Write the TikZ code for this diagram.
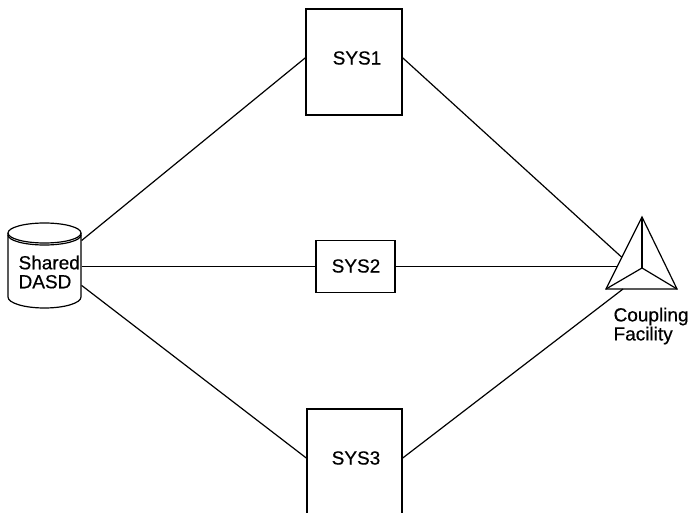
\documentclass[tikz,border=0pt]{standalone}
\usepackage{fontspec}
\setmainfont[FakeBold=0.5]{Liberation Sans}
\usetikzlibrary{calc}

\begin{document}
\begin{tikzpicture}[x=1pt, y=-1pt, line width=1.2pt,
    sysbox/.style={rectangle, draw, inner sep=0pt, minimum width=#1},
    syslabel/.style={font=\fontsize{19}{19}\selectfont, inner sep=0pt},
    twolines/.style={syslabel, align=left, font=\fontsize{19}{19}\selectfont}]
    \useasboundingbox (0,0) rectangle (688,513);
    \clip (0,0) rectangle (688,513);

    % shared disk
    \node[rectangle, inner sep=0pt, minimum width=73pt, minimum height=85pt] (dasd) at (44.5,266.5) {};
    \draw (44.5,233) ellipse [x radius=36.5pt, y radius=10pt];
    \draw (8,235) arc[start angle=180, end angle=360, x radius=36.5pt, y radius=10pt];
    \draw (8,233) -- (8,297) arc[start angle=180, end angle=360, x radius=36.5pt, y radius=11pt] -- (81,233);
    \node[twolines, anchor=west] (dasdtext) at (18,272) {Shared\\DASD};

    % systems
    \node[sysbox=96pt, minimum height=106pt] (sys1) at (354,62) {};
    \node[syslabel] (sys1text) at (357,58) {SYS1};
    \node[sysbox=79pt, minimum height=52pt] (sys2) at (355.5,266.5) {};
    \node[syslabel] (sys2text) at (356,266) {SYS2};
    \node[sysbox=95pt, minimum height=110pt] (sys3) at (354.5,464) {};
    \node[syslabel] (sys3text) at (356,458) {SYS3};

    % coupling facility
    \coordinate (cftop) at (642,217);
    \coordinate (cfleft) at (606,289);
    \coordinate (cfright) at (677,289);
    \coordinate (cfmid) at (642,268);
    \draw (cftop) -- (cfleft) -- (cfright) -- cycle;
    \draw (cftop) -- (cfmid);
    \draw (cfleft) -- (cfmid) -- (cfright);
    \node[twolines, anchor=west] (cftext) at (613,326) {Coupling\\Facility};

    % links
    \draw (dasd.35) -- (sys1.175);
    \draw (dasd.east) -- (sys2.west);
    \draw (dasd.-27) -- (sys3.173);
    \draw (sys1.5) -- ($(cfleft)!0.44!(cftop)$);
    \draw (sys2.east) -- ($(cfleft)!0.3125!(cftop)$);
    \draw (sys3.7) -- ($(cfleft)!0.24!(cfright)$);
\end{tikzpicture}
\end{document}
